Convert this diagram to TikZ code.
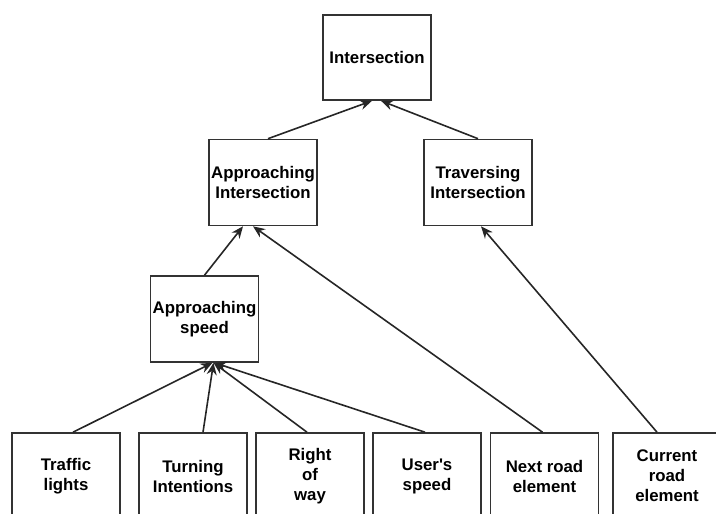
\documentclass[tikz,border=0pt]{standalone}
\usepackage{fontspec}
\setmainfont{Liberation Sans}
\usetikzlibrary{arrows.meta}

\begin{document}
\begin{tikzpicture}[x=1pt, y=-1pt]
\tikzset{boite/.style={draw=black!80, line width=1.6pt, minimum width=108pt, minimum height=86pt, align=center, inner sep=1pt, font=\fontsize{16.8}{20}\selectfont\bfseries}}
\tikzset{fleche/.style={draw=black!85, line width=1.6pt, -{Stealth[length=12pt, width=10pt]}}}
\useasboundingbox (0,0) rectangle (716,514);
\clip (0,0) rectangle (716,514);
\node[boite, minimum height=85pt] (I) at (377,57.5) {Intersection};
\node[boite] (AI) at (263,182.5) {Approaching\\Intersection};
\node[boite] (TI) at (478,182.5) {Traversing\\Intersection};
\node[boite] (AS) at (204.5,319) {Approaching\\speed};
\node[boite] (TL) at (66,476) {Traffic\\lights};
\node[boite] (TU) at (193,476) {Turning\\Intentions};
\node[boite] (RW) at (310,476) {Right\\of\\way};
\node[boite] (US) at (427,476) {User\textquotesingle s\\speed};
\node[boite] (NR) at (544.5,476) {Next road\\element};
\node[boite] (CR) at (667,476) {Current\\road\\element};
\draw[fleche] ([xshift=5pt]AI.north) -- ([xshift=-5pt]I.south);
\draw[fleche] (TI.north) -- ([xshift=4pt]I.south);
\draw[fleche] (AS.north) -- ([xshift=-20pt]AI.south);
\draw[fleche] ([xshift=-2pt]NR.north) -- ([xshift=-10pt]AI.south);
\draw[fleche] ([xshift=-10pt]CR.north) -- ([xshift=3pt]TI.south);
\draw[fleche] ([xshift=7pt]TL.north) -- ([xshift=8pt]AS.south);
\draw[fleche] ([xshift=10pt]TU.north) -- ([xshift=9pt]AS.south);
\draw[fleche] ([xshift=-3pt]RW.north) -- ([xshift=9pt]AS.south);
\draw[fleche] ([xshift=-2pt]US.north) -- ([xshift=10pt]AS.south);
\end{tikzpicture}
\end{document}
